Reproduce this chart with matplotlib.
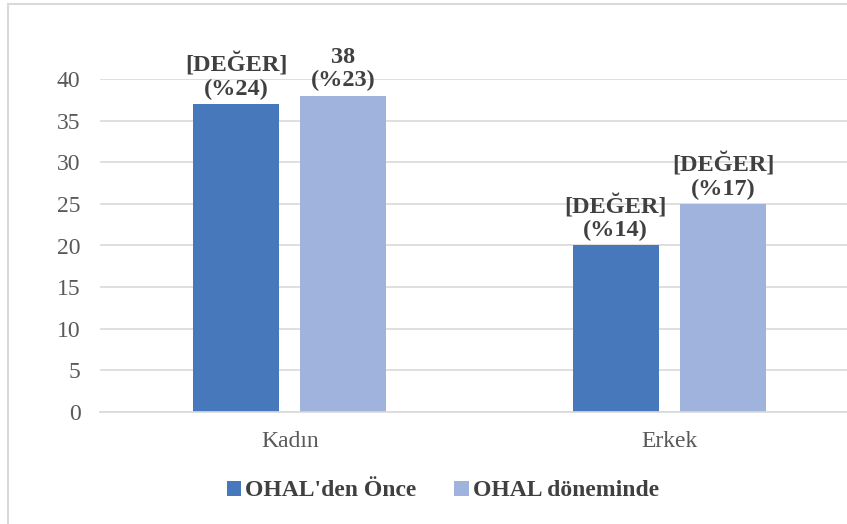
import numpy as np
import matplotlib.pyplot as plt
from matplotlib.patches import Rectangle

categories = ["Kadın", "Erkek"]
series_names = ["OHAL'den Önce", "OHAL döneminde"]
before = [37, 20]
during = [38, 25]
before_labels = ["[DEĞER]\n(%24)", "[DEĞER]\n(%14)"]
during_labels = ["38\n(%23)", "[DEĞER]\n(%17)"]
colors = ["#4878BC", "#9FB3DC"]

plt.rcParams["font.family"] = ["Liberation Serif", "DejaVu Serif"]

fig = plt.figure(figsize=(8.47, 5.24), dpi=100)
W, H = 847, 524
ax = fig.add_axes([100 / W, (H - 412) / H, 759 / W, (412 - 79) / H])

x = np.arange(len(categories))
width = 0.2266
off = 0.1416
b1 = ax.bar(x - off, before, width, color=colors[0], label=series_names[0], zorder=2)
b2 = ax.bar(x + off, during, width, color=colors[1], label=series_names[1], zorder=2)

for bars, labels in ((b1, before_labels), (b2, during_labels)):
    for rect, lab in zip(bars, labels):
        ax.annotate(lab, (rect.get_x() + rect.get_width() / 2, rect.get_height()),
                    xytext=(0, 3), textcoords="offset points", ha="center", va="bottom",
                    fontsize=17.5, fontweight="bold", color="#404040", linespacing=1.12,
                    annotation_clip=False)

ax.set_xlim(-0.5, 1.5)
ax.set_ylim(0, 40)
ax.set_yticks(range(0, 41, 5))
ax.set_xticks(x)
ax.set_xticklabels(categories)
ax.grid(axis="y", color="#D9D9D9", linewidth=1.2, zorder=0)
ax.set_axisbelow(True)
for s in ("top", "right", "left"):
    ax.spines[s].set_visible(False)
ax.spines["bottom"].set_color("#D9D9D9")
ax.spines["bottom"].set_linewidth(1.2)
ax.tick_params(axis="both", length=0, labelsize=17, colors="#595959")
ax.tick_params(axis="y", pad=14)
ax.tick_params(axis="x", pad=14)

fig.legend(handles=[b1, b2], labels=series_names, loc="center", bbox_to_anchor=(443 / W, 1 - 491 / H),
           ncol=2, frameon=False, handlelength=0.6, handleheight=0.6, handletextpad=0.2,
           columnspacing=1.6, prop={"weight": "bold", "size": 17}, labelcolor="#404040")

fig.patches.append(Rectangle((8 / W, -0.1), 1.2, 1 - 4 / H + 0.1, transform=fig.transFigure,
                             fill=False, edgecolor="#D9D9D9", linewidth=1.5))

fig.savefig("out.png", dpi=100)
